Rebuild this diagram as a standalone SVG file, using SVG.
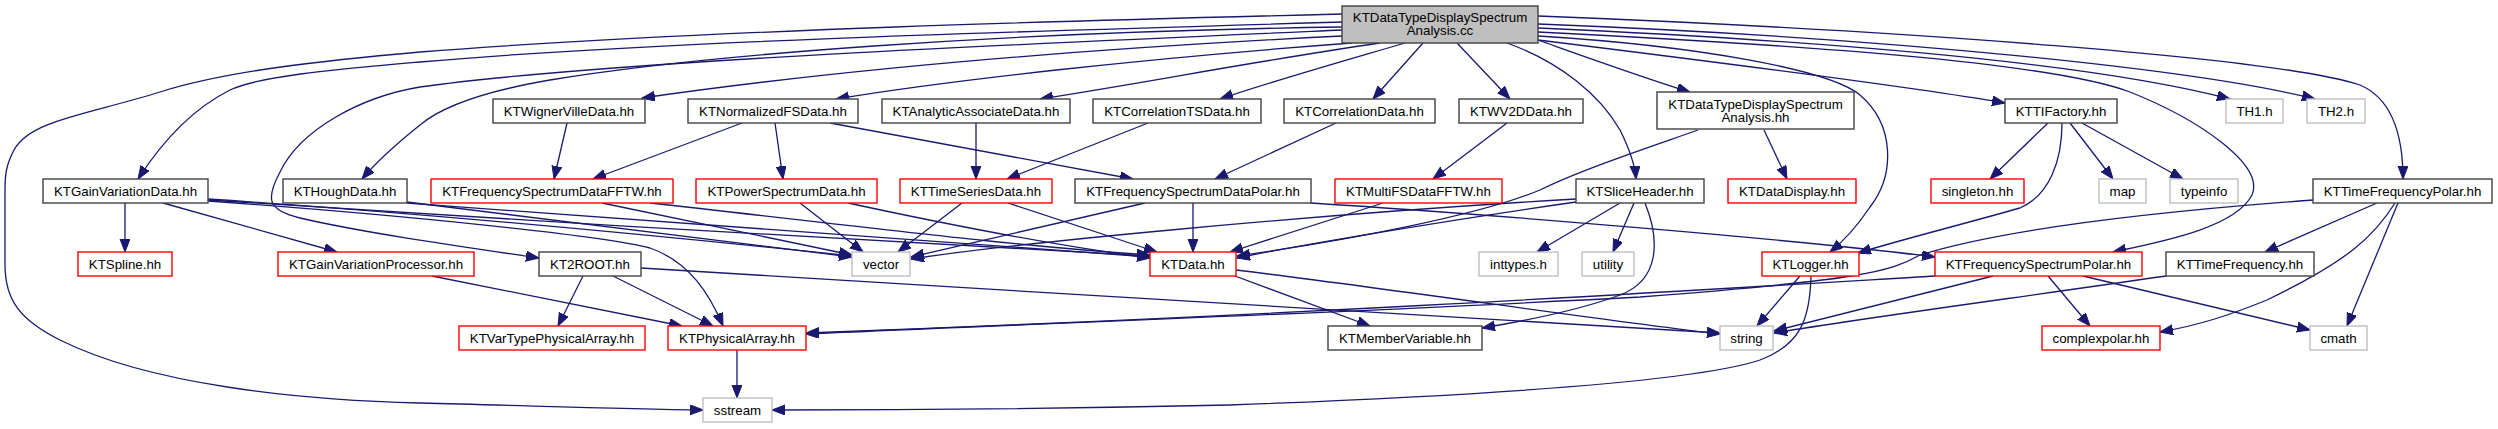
<svg xmlns="http://www.w3.org/2000/svg" width="2498" height="429" viewBox="0 0 2498 429">
<defs>
<marker id="ah" markerUnits="userSpaceOnUse" markerWidth="14" markerHeight="11" refX="13" refY="5" orient="auto">
<path d="M0,0 L13,5 L0,10 z" fill="#191970" stroke="#191970" stroke-width="1"/>
</marker>
<style>
text{font-family:"Liberation Sans",Arial,sans-serif;font-size:13.3px;fill:#000;text-anchor:middle}
.b rect{fill:#fff;stroke:#404040;stroke-width:1.4}
.r rect{fill:#fff;stroke:#ff0000;stroke-width:1.4}
.g rect{fill:#fff;stroke:#bfbfbf;stroke-width:1.4}
.root rect{fill:#bfbfbf;stroke:#404040;stroke-width:1.4}
#edges path{fill:none;stroke:#191970;stroke-width:1.3;marker-end:url(#ah)}
</style>
</defs>
<rect width="2498" height="429" fill="#fff"/>
<g id="edges">
<path d="M1342,14 C1100,20 700,30 420,52 C330,60 230,70 160,92 C90,114 30,120 14,150 C6,165 5,175 5,190 L5,265 C5,300 20,320 60,340 C150,385 300,400 420,403 C540,406 620,409 703,410"/>
<path d="M1342,22 C1000,32 650,42 420,62 C330,70 260,76 230,90 C190,110 160,145 138,179"/>
<path d="M1342,30 C1000,45 600,62 420,87 C360,97 300,130 280,172 C265,200 268,210 300,218 C360,232 450,245 539,258"/>
<path d="M1342,27 C1000,32 700,55 550,80 C480,92 440,108 420,125 C395,145 378,160 362,179"/>
<path d="M1342,36 C1100,48 850,68 642,98"/>
<path d="M1352,43 C1150,58 950,80 836,99"/>
<path d="M1380,43 C1250,62 1150,82 1040,99"/>
<path d="M1405,43 C1330,65 1270,82 1220,99"/>
<path d="M1423,43 L1373,99"/>
<path d="M1457,43 L1510,99"/>
<path d="M1507,43 C1560,62 1600,95 1620,130 C1630,150 1635,165 1636,179"/>
<path d="M1538,40 C1600,62 1650,80 1690,92"/>
<path d="M1538,36 C1700,46 1830,70 1860,95 C1895,125 1895,175 1870,207 C1858,225 1845,240 1830,252"/>
<path d="M1538,40 C1700,60 1900,85 2005,103"/>
<path d="M1538,32 C1800,45 2050,62 2130,92 C2200,120 2265,165 2252,195 C2235,228 2160,242 2113,252"/>
<path d="M1538,28 C1850,42 2100,65 2230,99"/>
<path d="M1538,24 C1900,38 2200,70 2315,99"/>
<path d="M1538,16 C1900,30 2280,58 2360,85 C2395,100 2403,140 2403,179"/>
<path d="M125,203 L125,252"/>
<path d="M163,203 L337,252"/>
<path d="M208,199 C450,215 700,240 852,256"/>
<path d="M208,200 C500,220 900,242 1150,256"/>
<path d="M208,201 C400,215 600,235 650,248 C690,262 710,295 723,326"/>
<path d="M407,202 C600,225 750,245 852,257"/>
<path d="M407,203 C700,225 1000,245 1150,257"/>
<path d="M432,276 L682,326"/>
<path d="M583,276 L558,326"/>
<path d="M613,276 L713,326"/>
<path d="M641,268 C1000,290 1500,320 1720,333"/>
<path d="M737,350 L737,398"/>
<path d="M567,123 L554,179"/>
<path d="M742,123 L593,179"/>
<path d="M775,123 L783,179"/>
<path d="M830,123 L1133,179"/>
<path d="M602,203 L852,255"/>
<path d="M650,203 C850,225 1000,245 1150,255"/>
<path d="M800,203 L863,252"/>
<path d="M848,203 C950,225 1050,245 1150,258"/>
<path d="M976,123 L976,179"/>
<path d="M1148,123 L1007,179"/>
<path d="M962,203 L898,252"/>
<path d="M1008,203 L1157,252"/>
<path d="M1336,123 L1215,179"/>
<path d="M1507,123 L1433,179"/>
<path d="M1145,203 L911,257"/>
<path d="M1193,203 L1193,252"/>
<path d="M1311,203 C1500,215 1800,240 1935,257"/>
<path d="M1383,203 L1230,252"/>
<path d="M1764,130 L1787,179"/>
<path d="M1698,130 C1650,147 1580,170 1540,190 C1480,215 1350,240 1237,256"/>
<path d="M1576,199 C1300,215 1000,245 911,259"/>
<path d="M1576,202 C1450,220 1300,245 1237,258"/>
<path d="M1620,203 L1537,252"/>
<path d="M1634,203 L1613,252"/>
<path d="M1645,203 C1660,240 1660,280 1620,295 C1580,310 1530,320 1482,328"/>
<path d="M1235,276 L1370,326"/>
<path d="M1236,270 C1400,290 1600,320 1720,334"/>
<path d="M1800,276 L1757,326"/>
<path d="M1811,276 C1810,320 1800,345 1760,360 C1700,380 1500,395 1230,405 C1000,410 850,410 772,410"/>
<path d="M2048,123 L1990,179"/>
<path d="M2070,123 L2113,179"/>
<path d="M2082,123 L2183,179"/>
<path d="M2062,123 C2062,160 2050,195 2020,208 C1960,225 1900,240 1858,253"/>
<path d="M1935,276 C1700,290 1300,315 806,333"/>
<path d="M1993,276 L1774,331"/>
<path d="M2048,276 L2090,326"/>
<path d="M2083,276 L2310,330"/>
<path d="M2313,200 C2150,212 2000,230 1920,255 C1890,272 1860,280 1640,297 C1300,315 1000,325 806,334"/>
<path d="M2377,203 L2265,252"/>
<path d="M2395,203 C2375,235 2350,260 2267,300 C2230,315 2200,325 2160,332"/>
<path d="M2398,203 L2347,326"/>
<path d="M2166,276 C2000,300 1850,320 1774,333"/>
</g>
<g id="n_root" class="root"><rect x="1342" y="6" width="196" height="37"/><text x="1440" y="22">KTDataTypeDisplaySpectrum</text><text x="1440" y="35.3">Analysis.cc</text></g>
<g id="n_gvd" class="b"><rect x="43" y="179" width="165" height="24"/><text x="125.5" y="195.8">KTGainVariationData.hh</text></g>
<g id="n_spline" class="r"><rect x="78" y="252" width="94" height="24"/><text x="125" y="268.8">KTSpline.hh</text></g>
<g id="n_hough" class="b"><rect x="283" y="179" width="124" height="24"/><text x="345" y="195.8">KTHoughData.hh</text></g>
<g id="n_gvp" class="r"><rect x="278" y="252" width="196" height="24"/><text x="376" y="268.8">KTGainVariationProcessor.hh</text></g>
<g id="n_wvd" class="b"><rect x="493" y="99" width="152" height="24"/><text x="569" y="115.8">KTWignerVilleData.hh</text></g>
<g id="n_nfs" class="b"><rect x="688" y="99" width="170" height="24"/><text x="773" y="115.8">KTNormalizedFSData.hh</text></g>
<g id="n_fsfftw" class="r"><rect x="431" y="179" width="242" height="24"/><text x="552" y="195.8">KTFrequencySpectrumDataFFTW.hh</text></g>
<g id="n_psd" class="r"><rect x="696" y="179" width="181" height="24"/><text x="786.5" y="195.8">KTPowerSpectrumData.hh</text></g>
<g id="n_kt2root" class="b"><rect x="539" y="252" width="102" height="24"/><text x="590" y="268.8">KT2ROOT.hh</text></g>
<g id="n_vtpa" class="r"><rect x="459" y="326" width="186" height="24"/><text x="552" y="342.8">KTVarTypePhysicalArray.hh</text></g>
<g id="n_pa" class="r"><rect x="668" y="326" width="138" height="24"/><text x="737" y="342.8">KTPhysicalArray.hh</text></g>
<g id="n_sstream" class="g"><rect x="703" y="398" width="69" height="24"/><text x="737.5" y="414.8">sstream</text></g>
<g id="n_aad" class="b"><rect x="882" y="99" width="188" height="24"/><text x="976" y="115.8">KTAnalyticAssociateData.hh</text></g>
<g id="n_cts" class="b"><rect x="1093" y="99" width="168" height="24"/><text x="1177" y="115.8">KTCorrelationTSData.hh</text></g>
<g id="n_tsd" class="r"><rect x="900" y="179" width="152" height="24"/><text x="976" y="195.8">KTTimeSeriesData.hh</text></g>
<g id="n_fsdp" class="b"><rect x="1075" y="179" width="236" height="24"/><text x="1193" y="195.8">KTFrequencySpectrumDataPolar.hh</text></g>
<g id="n_vector" class="g"><rect x="852" y="252" width="58" height="24"/><text x="881" y="268.8">vector</text></g>
<g id="n_data" class="r"><rect x="1150" y="252" width="86" height="24"/><text x="1193" y="268.8">KTData.hh</text></g>
<g id="n_corr" class="b"><rect x="1284" y="99" width="151" height="24"/><text x="1359.5" y="115.8">KTCorrelationData.hh</text></g>
<g id="n_wv2d" class="b"><rect x="1459" y="99" width="124" height="24"/><text x="1521" y="115.8">KTWV2DData.hh</text></g>
<g id="n_mfs" class="r"><rect x="1335" y="179" width="167" height="24"/><text x="1418.5" y="195.8">KTMultiFSDataFFTW.hh</text></g>
<g id="n_slice" class="b"><rect x="1576" y="179" width="128" height="24"/><text x="1640" y="195.8">KTSliceHeader.hh</text></g>
<g id="n_inttypes" class="g"><rect x="1479" y="252" width="79" height="24"/><text x="1518.5" y="268.8">inttypes.h</text></g>
<g id="n_utility" class="g"><rect x="1582" y="252" width="52" height="24"/><text x="1608" y="268.8">utility</text></g>
<g id="n_mv" class="b"><rect x="1328" y="326" width="154" height="24"/><text x="1405" y="342.8">KTMemberVariable.hh</text></g>
<g id="n_dtdsa" class="b"><rect x="1657" y="92" width="197" height="37"/><text x="1755.5" y="108.6">KTDataTypeDisplaySpectrum</text><text x="1755.5" y="121.9">Analysis.hh</text></g>
<g id="n_dd" class="r"><rect x="1728" y="179" width="128" height="24"/><text x="1792" y="195.8">KTDataDisplay.hh</text></g>
<g id="n_tif" class="b"><rect x="2005" y="99" width="112" height="24"/><text x="2061" y="115.8">KTTIFactory.hh</text></g>
<g id="n_singleton" class="r"><rect x="1931" y="179" width="93" height="24"/><text x="1977.5" y="195.8">singleton.hh</text></g>
<g id="n_logger" class="r"><rect x="1762" y="252" width="97" height="24"/><text x="1810.5" y="268.8">KTLogger.hh</text></g>
<g id="n_fsp" class="r"><rect x="1935" y="252" width="207" height="24"/><text x="2038.5" y="268.8">KTFrequencySpectrumPolar.hh</text></g>
<g id="n_string" class="g"><rect x="1720" y="326" width="53" height="24"/><text x="1746.5" y="342.8">string</text></g>
<g id="n_th1" class="g"><rect x="2226" y="99" width="57" height="24"/><text x="2254.5" y="115.8">TH1.h</text></g>
<g id="n_th2" class="g"><rect x="2307" y="99" width="58" height="24"/><text x="2336" y="115.8">TH2.h</text></g>
<g id="n_map" class="g"><rect x="2099" y="179" width="47" height="24"/><text x="2122.5" y="195.8">map</text></g>
<g id="n_typeinfo" class="g"><rect x="2170" y="179" width="68" height="24"/><text x="2204" y="195.8">typeinfo</text></g>
<g id="n_tfp" class="b"><rect x="2313" y="179" width="179" height="24"/><text x="2402.5" y="195.8">KTTimeFrequencyPolar.hh</text></g>
<g id="n_tf" class="b"><rect x="2166" y="252" width="148" height="24"/><text x="2240" y="268.8">KTTimeFrequency.hh</text></g>
<g id="n_cp" class="r"><rect x="2042" y="326" width="118" height="24"/><text x="2101" y="342.8">complexpolar.hh</text></g>
<g id="n_cmath" class="g"><rect x="2310" y="326" width="57" height="24"/><text x="2338.5" y="342.8">cmath</text></g>
</svg>
